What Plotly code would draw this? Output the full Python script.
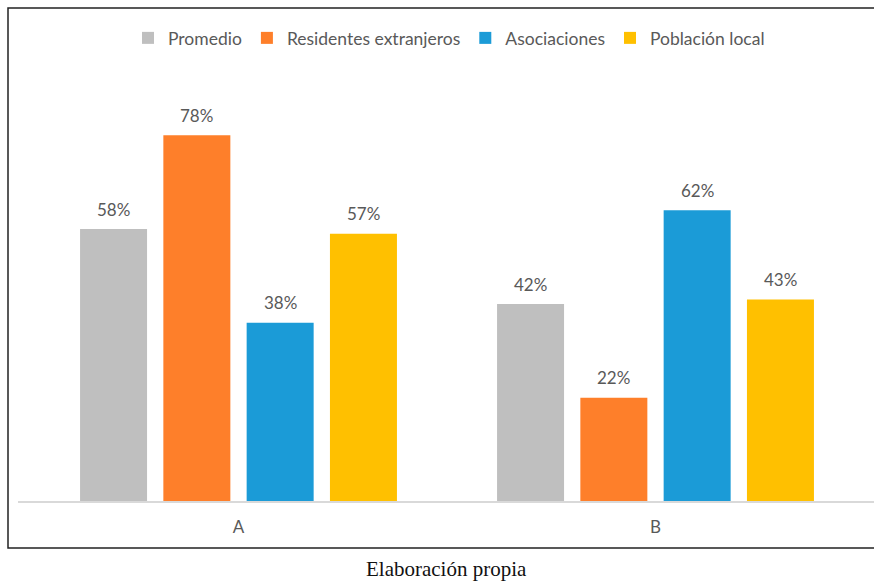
import plotly.graph_objects as go

categories = ["A", "B"]
series_names = ["Promedio", "Residentes extranjeros", "Asociaciones", "Población local"]
promedio = [0.58, 0.42]
residentes = [0.78, 0.22]
asociaciones = [0.38, 0.62]
poblacion = [0.57, 0.43]
colors = ["#BFBFBF", "#FE7F2A", "#1B9BD7", "#FFC000"]
caption = "Elaboración propia"

series_values = [promedio, residentes, asociaciones, poblacion]

W, H = 874, 582
ml, mr, mt, mb = 18, 0, 79, 81
plot_w = W - ml - mr
plot_h = H - mt - mb

# category spacing in px
cat_px = 417.0
x0 = -(238.5 - ml) / cat_px
x1 = x0 + plot_w / cat_px

FONT = "Lato"
GRAY = "#595959"

fig = go.Figure()
for name, vals, col in zip(series_names, series_values, colors):
    fig.add_trace(go.Bar(x=categories, y=vals, name=name, marker=dict(color=col, line=dict(width=0))))

slot_px = 83.3
bargap = 1 - 4 * slot_px / cat_px
bargroupgap = (slot_px - 67) / slot_px
for i, vals in enumerate(series_values):
    for c, v in zip(categories, vals):
        fig.add_annotation(x=c, y=v, xref="x", yref="y", text=f"{round(v*100)}%",
                           showarrow=False, xshift=(i - (len(series_names) - 1) / 2) * slot_px,
                           yshift=20, yanchor="middle",
                           font=dict(family=FONT, size=17, color=GRAY))

# frame
fig.add_shape(type="rect", xref="paper", yref="paper",
              x0=(8 - ml) / plot_w, x1=1.02, y0=-(548 - (H - mb)) / plot_h, y1=((H - mb) - 8) / plot_h,
              line=dict(color="#222222", width=1.5), fillcolor="rgba(0,0,0,0)", layer="below")

fig.add_annotation(text=caption, xref="paper", yref="paper", x=(447 - ml) / plot_w,
                   y=-(569 - (H - mb)) / plot_h, showarrow=False, yanchor="middle",
                   font=dict(family="Liberation Serif", size=21, color="#111111"))

fig.update_layout(
    width=W, height=H,
    margin=dict(l=ml, r=mr, t=mt, b=mb),
    paper_bgcolor="white", plot_bgcolor="white",
    barmode="group", bargap=bargap, bargroupgap=bargroupgap,
    showlegend=True,
    legend=dict(orientation="h", x=(449 - ml) / plot_w, xanchor="center",
                y=((H - mb) - 38) / plot_h, yanchor="middle",
                font=dict(family=FONT, size=17.5, color=GRAY),
                itemwidth=30, traceorder="normal"),
    xaxis=dict(range=[x0, x1], showline=True, linecolor="#D9D9D9", linewidth=1.5,
               ticks="", ticklabelstandoff=10,
               tickfont=dict(family=FONT, size=17, color=GRAY), showgrid=False),
    yaxis=dict(range=[0, 0.9], visible=False, showgrid=False),
)

fig.write_html("out.html")
